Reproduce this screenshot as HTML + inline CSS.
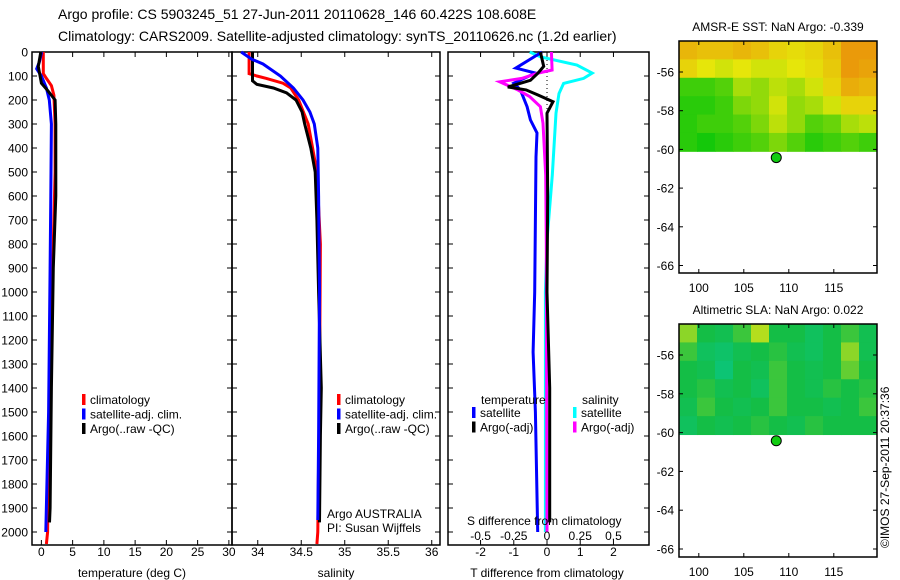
<!DOCTYPE html>
<html><head><meta charset="utf-8"><style>
body{margin:0;background:#fff}
svg{display:block;font-family:"Liberation Sans",sans-serif}
text{font-size:12px;fill:#000}
</style></head><body>
<svg id="c" width="900" height="580" viewBox="0 0 900 580" xmlns="http://www.w3.org/2000/svg">
<text x="58" y="19" style="font-size:14px">Argo profile: CS 5903245_51 27-Jun-2011 20110628_146 60.422S 108.608E</text>
<text x="58" y="41" style="font-size:14px">Climatology: CARS2009. Satellite-adjusted climatology: synTS_20110626.nc (1.2d earlier)</text>
<g id="g"></g>
<text transform="translate(889,548) rotate(-90)" style="font-size:12px">©IMOS 27-Sep-2011 20:37:36</text>
</svg>
<script>
// ---- profile data ----
const tClimDepth=[0,90,110,140,180,300,500,800,1200,1600,2000,2050];
const tClimVal=[0.3,0.3,0.8,1.6,2.0,2.2,2.2,1.9,1.5,1.2,1.0,0.8];
const tSatDepth=[0,40,70,100,150,200,300,600,900,1500,2000];
const tSatVal=[0.05,-0.3,-0.75,0,0.8,1.26,1.6,1.5,1.4,1.15,0.7];
const tArgoDepth=[0,60,130,160,200,300,600,900,1400,1900,1960];
const tArgoVal=[-0.1,-0.5,0,1.0,2.2,2.3,2.3,1.9,1.6,1.4,1.3];
const sClimDepth=[0,90,100,110,130,150,200,300,400,500,800,1400,2000,2050];
const sClimVal=[33.90,33.90,33.99,34.10,34.29,34.38,34.47,34.58,34.63,34.68,34.72,34.71,34.69,34.68];
const sSatDepth=[0,30,50,100,150,200,250,300,400,600,1000,1600,1950];
const sSatVal=[33.81,33.93,34.06,34.26,34.41,34.52,34.60,34.65,34.69,34.70,34.71,34.70,34.69];
const sArgoDepth=[0,120,135,150,170,200,250,300,400,500,700,1000,1400,1600,1960];
const sArgoVal=[33.94,33.94,33.99,34.18,34.33,34.44,34.51,34.54,34.61,34.66,34.68,34.70,34.73,34.72,34.71];
const dTSatDepth=[0,67,88,130,158,228,283,337,437,1000,1250,1500,2000];
const dTSatVal=[-0.15,-0.94,-0.35,-1.0,-0.8,-0.6,-0.5,-0.3,-0.33,-0.37,-0.42,-0.35,-0.28];
const dTArgoDepth=[0,60,88,118,146,158,179,207,255,600,1000,1400,1960];
const dTArgoVal=[-0.2,-0.1,-0.27,-0.5,-1.18,-0.63,-0.27,0.18,0,0.02,0.0,0.08,0.08];
const dSSatDepth=[0,20,54,88,110,131,173,255,513,785,1000,2000];
const dSSatVal=[-0.13,-0.05,0.225,0.34,0.275,0.125,0.09,0.068,0.04,0,-0.012,-0.012];
const dSArgoDepth=[0,75,88,110,124,158,186,228,297,513,800,2000];
const dSArgoVal=[0.033,0.038,-0.068,-0.19,-0.355,-0.22,-0.13,-0.05,-0.03,-0.01,-0.005,0];
// ---- map data (normalized 0..1) ----
const sstGrid=[
[.75,.7,.7,.75,.7,.6,.55,.6,.7,.9,.9],
[.6,.5,.45,.5,.45,.45,.5,.55,.65,.9,.85],
[.1,.1,.15,.35,.3,.4,.35,.45,.6,.8,.75],
[.05,.05,.1,.25,.3,.45,.3,.35,.45,.6,.6],
[.05,.1,.1,.15,.25,.4,.3,.15,.2,.35,.4],
[.05,0,.05,.1,.15,.25,.15,.05,.1,.15,.1]];
const slaGrid=[
[.8,.5,.45,.6,.9,.5,.5,.4,.5,.6,.45],
[.6,.4,.35,.45,.5,.55,.45,.4,.5,.8,.45],
[.5,.45,.3,.5,.45,.6,.5,.45,.5,.7,.5],
[.5,.55,.45,.5,.4,.6,.5,.45,.55,.5,.55],
[.45,.6,.5,.45,.5,.6,.5,.5,.45,.5,.6],
[.4,.5,.45,.5,.55,.5,.45,.55,.5,.5,.5]];
const depthTicks=[0,100,200,300,400,500,600,700,800,900,1000,1100,1200,1300,1400,1500,1600,1700,1800,1900,2000];
const tTicks=[0,5,10,15,20,25,30];
const sTicks=[34,34.5,35,35.5,36];
const dTicks=[-2,-1,0,1,2];
const dsTicks=[-0.5,-0.25,0,0.25,0.5];
const dsLabels=['-0.5','-0.25','0','0.25','0.5'];
const latTicks=[-56,-58,-60,-62,-64,-66];
const lonTicks=[100,105,110,115];
const argoLon=108.608, argoLat=-60.422;

const NS="http://www.w3.org/2000/svg";
const G=document.getElementById('g');
function mk(tag,attrs,parent){const e=document.createElementNS(NS,tag);for(const k in attrs)e.setAttribute(k,attrs[k]);(parent||G).appendChild(e);return e;}
function txt(x,y,s,anchor,parent){const t=mk('text',{x:x,y:y,'text-anchor':anchor||'start'},parent);t.textContent=s;return t;}
const top0=52, pxm=0.24, bot=545;
const yD=d=>top0+d*pxm;
function linX(a,b,px0,px1){return v=>px0+(v-a)/(b-a)*(px1-px0);}
const xT=linX(-1.5,30.5,32,232);
const xS=linX(33.704,36.095,232,440);
const xD=linX(-2.98,3.07,448,649);
const xDS=v=>xD(v*4);

function frame(x0,x1,name){
  const r=mk('rect',{x:x0,y:top0,width:x1-x0,height:bot-top0,fill:'none',stroke:'#000','stroke-width':1.5});
  
  
  depthTicks.forEach(d=>{mk('line',{x1:x0,x2:x0+5,y1:yD(d),y2:yD(d),stroke:'#000'});mk('line',{x1:x1,x2:x1-5,y1:yD(d),y2:yD(d),stroke:'#000'});});
}
function xticks(xs,fn,labels,y){
  xs.forEach((v,i)=>{const x=fn(v);mk('line',{x1:x,x2:x,y1:bot,y2:bot-5,stroke:'#000'});mk('line',{x1:x,x2:x,y1:top0,y2:top0+5,stroke:'#000'});
    const t=txt(x,y,labels?labels[i]:String(v),'middle');
    
    });
}
function line(depths,vals,fx,color,name){
  const pts=depths.map((d,i)=>fx(vals[i]).toFixed(1)+','+yD(d).toFixed(1)).join(' ');
  const p=mk('polyline',{points:pts,fill:'none',stroke:color,'stroke-width':3,'stroke-linejoin':'miter'});
  
  
}
function legend(x,y,items){
  items.forEach((it,i)=>{mk('rect',{x:x,y:y+i*14.5-10,width:3.5,height:11,fill:it[0]});
    const t=txt(x+8,y+i*14.5,it[1]);
    
    });
}
depthTicks.forEach(d=>{const t=txt(28,yD(d)+4.5,String(d),'end');
  
  });
// panel 1
frame(32,232,'temperature-panel');
xticks(tTicks,xT,null,556);
line(tClimDepth,tClimVal,xT,'#f00','temp-climatology-line');
line(tSatDepth,tSatVal,xT,'#00f','temp-satellite-line');
line(tArgoDepth,tArgoVal,xT,'#000','temp-argo-line');
txt(132,577,'temperature (deg C)','middle');
legend(82,404,[['#f00','climatology'],['#00f','satellite-adj. clim.'],['#000','Argo(..raw -QC)']]);
// panel 2
frame(232,440,'salinity-panel');
xticks(sTicks,xS,null,556);
line(sClimDepth,sClimVal,xS,'#f00','sal-climatology-line');
line(sArgoDepth,sArgoVal,xS,'#000','sal-argo-line');
line(sSatDepth,sSatVal,xS,'#00f','sal-satellite-line');
txt(336,577,'salinity','middle');
legend(337,404,[['#f00','climatology'],['#00f','satellite-adj. clim.'],['#000','Argo(..raw -QC)']]);
txt(327,518,'Argo AUSTRALIA');
txt(327,532,'PI: Susan Wijffels');
// panel 3
frame(448,649,'difference-panel');
xticks(dTicks,xD,null,556);
mk('line',{x1:xD(0),x2:xD(0),y1:top0,y2:yD(1000),stroke:'#000','stroke-dasharray':'1,3'});
line(dSSatDepth,dSSatVal,xDS,'#0ff','sal-diff-satellite-line');
line(dTSatDepth,dTSatVal,xD,'#00f','temp-diff-satellite-line');
line(dSArgoDepth,dSArgoVal,xDS,'#f0f','sal-diff-argo-line');
line(dTArgoDepth,dTArgoVal,xD,'#000','temp-diff-argo-line');
txt(481,404,'temperature');
txt(582,404,'salinity');
legend(472,417,[['#00f','satellite'],['#000','Argo(-adj)']]);
legend(573,417,[['#0ff','satellite'],['#f0f','Argo(-adj)']]);
txt(467,525,'S difference from climatology');
dsTicks.forEach((v,i)=>{const t=txt(xDS(v),540,dsLabels[i],'middle');
  
  });
txt(547,577,'T difference from climatology','middle');

function sstColor(v){
  let r,g,b;
  if(v<0.5){const f=v/0.5;r=20+f*210;g=200+f*30;b=10;}
  else{const f=(v-0.5)/0.5;r=230+f*5;g=230-f*95;b=10;}
  return `rgb(${r|0},${g|0},${b|0})`;
}
function slaColor(v){
  let r,g,b;
  if(v<0.5){const f=v/0.5;r=0+f*20;g=205-f*15;b=185-f*115;}
  else{const f=(v-0.5)/0.5;r=20+f*200;g=190+f*40;b=70-f*50;}
  return `rgb(${r|0},${g|0},${b|0})`;
}
function map(x0,x1,yTop,yBot,latPx,lat56y,grid,colf,title,name){
  const lonA=97.8,lonB=119.8;
  const xL=linX(lonA,lonB,x0,x1);
  const yL=lat=>lat56y+(-56-lat)*latPx;
  const latTop=-56+(lat56y-yTop)/latPx;
  const latEnd=-60.1;
  const rows=grid.length, cols=grid[0].length;
  const g=mk('g',{});
  
  
  const dLat=(latTop-latEnd)/rows, dLon=(lonB-lonA)/cols;
  grid.forEach((row,ri)=>row.forEach((v,ci)=>{
    const xa=xL(lonA+ci*dLon), ya=yL(latTop-ri*dLat);
    mk('rect',{x:xa,y:ya,width:xL(lonA+(ci+1)*dLon)-xa+0.5,height:yL(latTop-(ri+1)*dLat)-ya+0.5,fill:colf(v)},g);
  }));
  mk('rect',{x:x0,y:yTop,width:x1-x0,height:yBot-yTop,fill:'none',stroke:'#000','stroke-width':1.5},g);
  latTicks.forEach(l=>{const y=yL(l);mk('line',{x1:x0,x2:x0+4,y1:y,y2:y,stroke:'#000'},g);mk('line',{x1:x1,x2:x1-4,y1:y,y2:y,stroke:'#000'},g);
    const t=txt(x0-5,y+4.5,String(l),'end',g);
    
    });
  lonTicks.forEach(l=>{const x=xL(l);mk('line',{x1:x,x2:x,y1:yBot,y2:yBot-4,stroke:'#000'},g);mk('line',{x1:x,x2:x,y1:yTop,y2:yTop+4,stroke:'#000'},g);
    const t=txt(x,yBot+19,String(l),'middle',g);
    
    });
  const c=mk('circle',{cx:xL(argoLon),cy:yL(argoLat),r:5,fill:'#1c1',stroke:'#000','stroke-width':1},g);
  
  
  const t=txt((x0+x1)/2,yTop-10,title,'middle',g);
  
  
}
map(679,877,41,273,19.35,72,sstGrid,sstColor,'AMSR-E SST: NaN Argo: -0.339','sst-map');
map(679,877,324,557,19.4,355,slaGrid,slaColor,'Altimetric SLA: NaN Argo: 0.022','sla-map');
</script>
</body></html>
